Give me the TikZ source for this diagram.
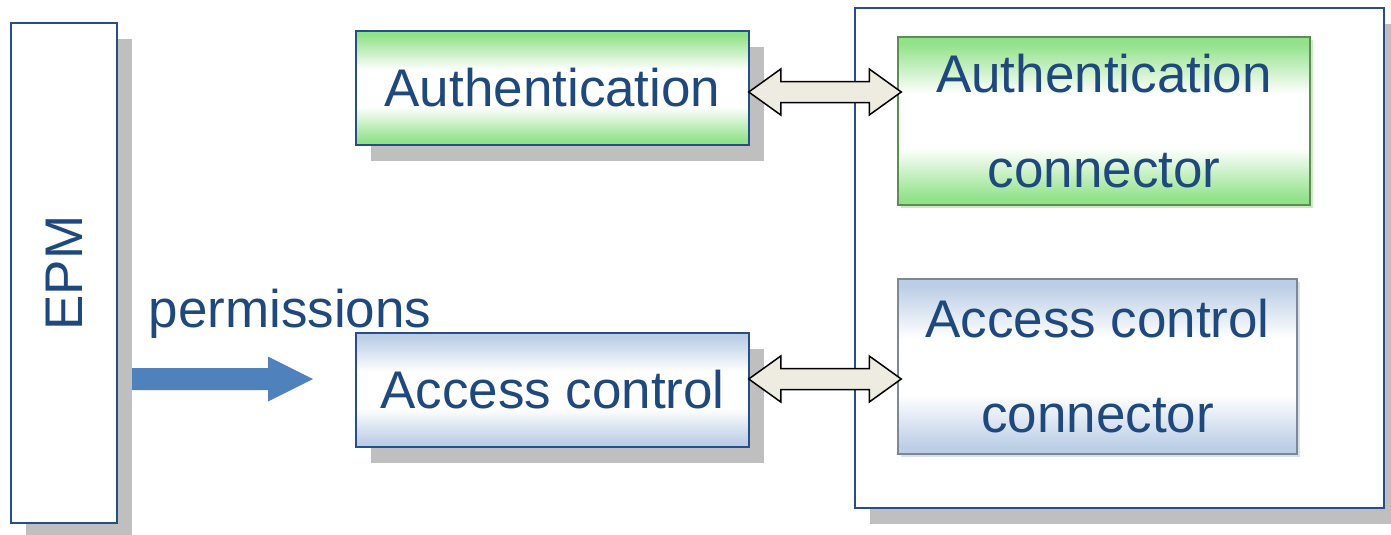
\documentclass[tikz,border=0pt]{standalone}
\usepackage{fontspec}
\setmainfont{Liberation Sans}
\usepackage{graphicx}
\usetikzlibrary{calc,shadows}
\definecolor{textblue}{RGB}{31,73,125}
\definecolor{borderblue}{RGB}{40,78,138}
\definecolor{shadowgray}{RGB}{191,191,191}
\definecolor{gfill}{RGB}{146,226,138}
\definecolor{bfill}{RGB}{188,206,230}
\definecolor{arrowfill}{RGB}{238,236,225}
\definecolor{bluearrow}{RGB}{79,129,189}
\definecolor{gborder}{RGB}{95,140,85}
\definecolor{gshadow}{RGB}{200,236,192}
\definecolor{bborder}{RGB}{125,135,150}
\definecolor{bshadow}{RGB}{214,224,240}
\pgfdeclareverticalshading{greenband}{100bp}{color(0bp)=(gfill); color(27bp)=(gfill); color(42bp)=(white); color(58bp)=(white); color(73bp)=(gfill); color(100bp)=(gfill)}
\pgfdeclareverticalshading{blueband}{100bp}{color(0bp)=(bfill); color(27bp)=(bfill); color(42bp)=(white); color(58bp)=(white); color(73bp)=(bfill); color(100bp)=(bfill)}
\tikzset{
  bigfont/.style={font=\fontsize{53}{95}\selectfont},
  graysh/.style={drop shadow={shadow xshift=15pt,shadow yshift=-16pt,fill=shadowgray,opacity=1}},
  box/.style={draw=borderblue,line width=1.5pt,inner sep=0pt,text=textblue,bigfont,graysh},
  greenbox/.style={box,shade,shading=greenband},
  bluebox/.style={box,shade,shading=blueband},
  conbox/.style={line width=1.5pt,inner sep=0pt,text=textblue,bigfont,align=center},
  dblarrow/.style={fill=arrowfill,draw=black,line width=1.5pt,line join=miter},
  fatarrow/.style={fill=bluearrow,draw=none},
}
\begin{document}
\begin{tikzpicture}[x=1pt,y=-1pt]
\useasboundingbox (0,0) rectangle (1391,535);
\clip (0,0) rectangle (1391,535);
% EPM
\node[box,fill=white,minimum width=106pt,minimum height=500pt] (epm) at (64,273) {\rotatebox{90}{EPM}};
% left boxes
\node[greenbox,minimum width=393pt,minimum height=114pt] (auth) at (552.5,88) {Authentication};
\node[bluebox,minimum width=393pt,minimum height=114pt] (acc) at (552.5,390) {Access control};
% container
\node[box,fill=white,minimum width=529pt,minimum height=500pt] (cont) at (1119.5,258) {};
% connector boxes
\node[conbox,draw=gborder,shade,shading=greenband,minimum width=412pt,minimum height=168pt,
  drop shadow={shadow xshift=3pt,shadow yshift=-3pt,fill=gshadow,opacity=1}] (authc) at (1104,121) {Authentication\\connector};
\node[conbox,draw=bborder,shade,shading=blueband,minimum width=399pt,minimum height=175pt,
  drop shadow={shadow xshift=3pt,shadow yshift=-3pt,fill=bshadow,opacity=1}] (accc) at (1097.5,366.5) {Access control\\connector};
% permissions label and arrow
\node[text=textblue,bigfont,inner sep=0pt,anchor=base] (perm) at (290,327) {permissions};
\coordinate (pstart) at (132,379);
\coordinate (pend) at (313,379);
\path let \p1=(pstart), \p2=(pend) in
  [fatarrow] (\x1,\y1+11pt) -- (\x2-45pt,\y1+11pt) -- (\x2-45pt,\y1+22.5pt) -- (\x2,\y1)
  -- (\x2-45pt,\y1-22.5pt) -- (\x2-45pt,\y1-11pt) -- (\x1,\y1-11pt) -- cycle;
% double arrows
\path let \p1=($(auth.east)+(-1,4)$), \p2=($(authc.west|-\p1)+(4,0)$) in
  [dblarrow] (\x1,\y1) -- (\x1+32pt,\y1+23pt) -- (\x1+32pt,\y1+10.5pt) -- (\x2-32pt,\y1+10.5pt)
  -- (\x2-32pt,\y1+23pt) -- (\x2,\y1) -- (\x2-32pt,\y1-23pt) -- (\x2-32pt,\y1-10.5pt)
  -- (\x1+32pt,\y1-10.5pt) -- (\x1+32pt,\y1-23pt) -- cycle;
\path let \p1=($(acc.east)+(-1,-11)$), \p2=($(accc.west|-\p1)+(4,0)$) in
  [dblarrow] (\x1,\y1) -- (\x1+32pt,\y1+23pt) -- (\x1+32pt,\y1+10.5pt) -- (\x2-32pt,\y1+10.5pt)
  -- (\x2-32pt,\y1+23pt) -- (\x2,\y1) -- (\x2-32pt,\y1-23pt) -- (\x2-32pt,\y1-10.5pt)
  -- (\x1+32pt,\y1-10.5pt) -- (\x1+32pt,\y1-23pt) -- cycle;
\end{tikzpicture}
\end{document}
